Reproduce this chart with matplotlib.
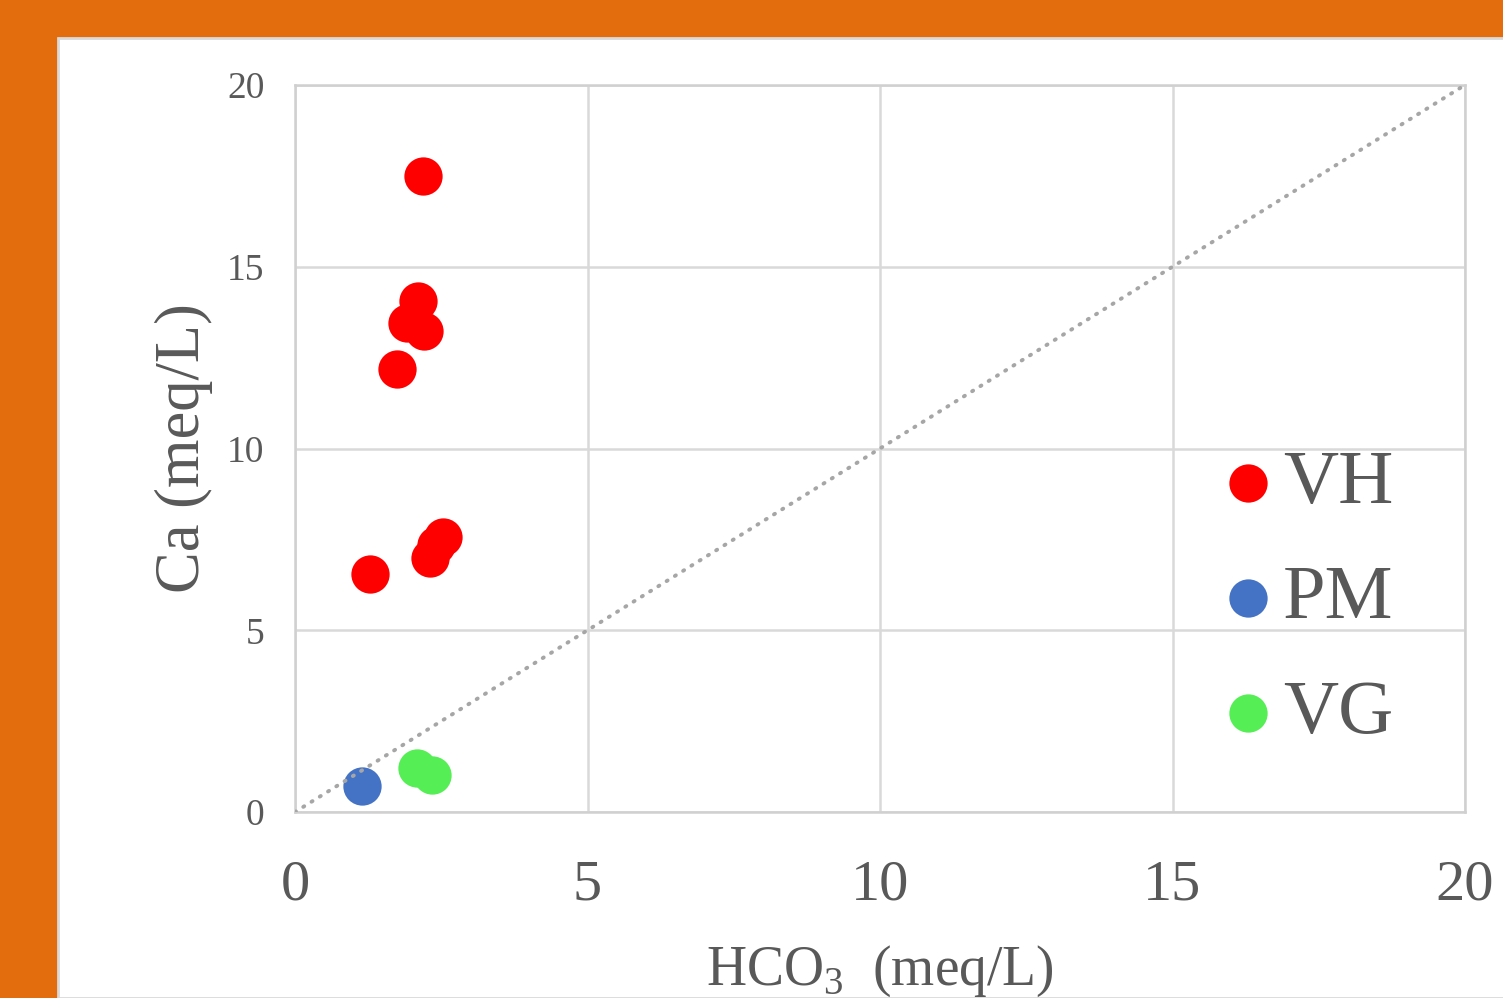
import matplotlib.pyplot as plt
from matplotlib.patches import Rectangle

plt.rcParams['font.family'] = ['Liberation Serif', 'DejaVu Serif']
plt.rcParams['mathtext.fontset'] = 'custom'
plt.rcParams['mathtext.rm'] = 'Liberation Serif'

# data
vh_x = [2.19, 2.10, 1.91, 2.21, 1.74, 1.28, 2.53, 2.41, 2.31]
vh_y = [17.5, 14.06, 13.45, 13.23, 12.19, 6.55, 7.57, 7.35, 6.99]
pm_x = [1.15]
pm_y = [0.72]
vg_x = [2.09, 2.34]
vg_y = [1.21, 1.02]
ticks = [0, 5, 10, 15, 20]

txt = '#595959'

fig = plt.figure(figsize=(15.03, 9.98), dpi=100)
fig.patch.set_facecolor('#E36C0C')
# white panel
fig.patches.append(Rectangle((58 / 1503, 0), 1.0, 1 - 38 / 998, transform=fig.transFigure,
                             facecolor='white', edgecolor='#d9d9d9', linewidth=2, zorder=-5))

ax = fig.add_axes([295 / 1503, 1 - 812 / 998, 1170 / 1503, 727 / 998])
ax.set_zorder(2)
ax.set_xlim(0, 20)
ax.set_ylim(0, 20)
ax.set_xticks(ticks)
ax.set_yticks(ticks)
ax.grid(True, color='#d9d9d9', linewidth=1.8)
ax.set_axisbelow(True)
for s in ax.spines.values():
    s.set_color('#d0d0d0')
    s.set_linewidth(1.8)

ax.tick_params(axis='both', length=0, colors=txt)
ax.tick_params(axis='y', labelsize=27, pad=22)
ax.tick_params(axis='x', labelsize=42, pad=34)

ms = 760
ax.scatter(vh_x, vh_y, s=ms, color='#FF0000', label='VH', zorder=3, linewidths=0)
ax.scatter(pm_x, pm_y, s=ms, color='#4472C4', label='PM', zorder=3, linewidths=0)
ax.scatter(vg_x, vg_y, s=ms, color='#55EE55', label='VG', zorder=3, linewidths=0)

# 1:1 line
ax.plot([0, 20], [0, 20], color='#A6A6A6', linewidth=2.8, linestyle=(0, (0.3, 2.2)),
        dash_capstyle='round', zorder=4)

ax.set_xlabel('HCO$_3$  (meq/L)', fontsize=40, color=txt, labelpad=23)
ax.set_ylabel('Ca (meq/L)', fontsize=45, color=txt, labelpad=10)

leg = ax.legend(loc='upper left', bbox_to_anchor=(0.795, 0.499), frameon=False,
                fontsize=55, handlelength=0.6, handletextpad=0.16, labelspacing=0.6,
                borderpad=0, borderaxespad=0, labelcolor=txt)

fig.savefig('out.png', dpi=100, facecolor=fig.get_facecolor())
